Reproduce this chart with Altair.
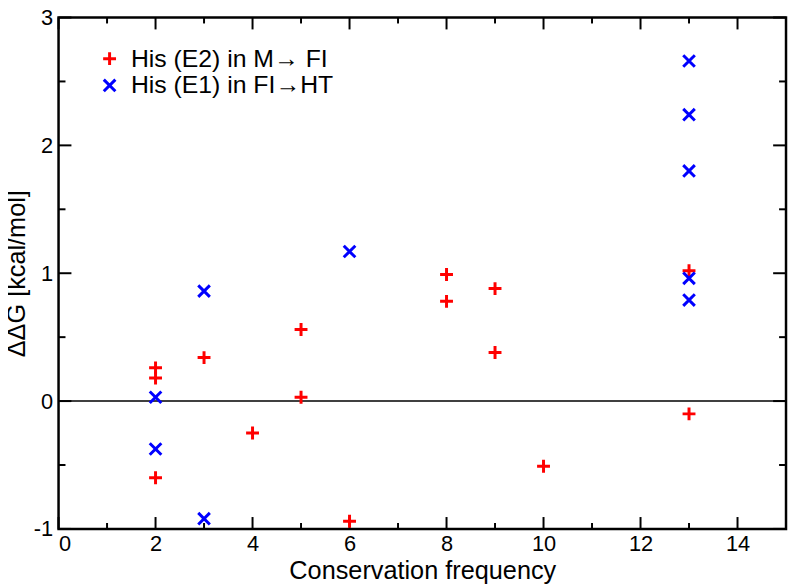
import altair as alt
import pandas as pd

# ---- data ----
red_label = "His (E2) in M\u2192 FI"
blue_label = "His (E1) in FI\u2192HT"

red_x = [2, 2, 2, 3, 4, 5, 5, 6, 8, 8, 9, 9, 10, 13, 13]
red_y = [0.26, 0.18, -0.60, 0.34, -0.25, 0.56, 0.03, -0.94, 0.99, 0.78, 0.88, 0.38, -0.51, 1.02, -0.10]

blue_x = [2, 2, 3, 3, 6, 13, 13, 13, 13, 13]
blue_y = [0.03, -0.375, 0.86, -0.92, 1.17, 2.66, 2.24, 1.80, 0.96, 0.79]

x_major = [0, 2, 4, 6, 8, 10, 12, 14]
x_minor = [1, 3, 5, 7, 9, 11, 13, 15]
y_major = [-1, 0, 1, 2, 3]
y_minor = [-0.5, 0.5, 1.5, 2.5]

W, H = 734, 516
FONT = "Liberation Sans"

pts = pd.DataFrame(
    {"x": red_x + blue_x,
     "y": red_y + blue_y,
     "series": [red_label] * len(red_x) + [blue_label] * len(blue_x)}
)

xs = alt.Scale(domain=[0, 15], nice=False, zero=False)
ys = alt.Scale(domain=[-1, 3], nice=False, zero=False)

plus_path = "M-1,0L1,0M0,-1L0,1"
x_path = "M-0.9,-0.9L0.9,0.9M-0.9,0.9L0.9,-0.9"

leg = dict(title=None, orient="none", legendX=39, legendY=29,
           labelFontSize=25, labelFont=FONT, labelColor="black", labelLimit=500,
           symbolSize=169, symbolStrokeWidth=3, labelOffset=9,
           rowPadding=1, padding=0)

points = alt.Chart(pts).mark_point(filled=False, strokeWidth=3, size=169, opacity=1).encode(
    x=alt.X("x:Q", scale=xs,
            axis=alt.Axis(title="Conservation frequency", values=x_major, ticks=False,
                          domain=False, grid=False, labelFontSize=22, labelPadding=5,
                          labelExpr="'' + datum.value",
                          titleFontSize=25.5, titleFontWeight="normal", titlePadding=4,
                          labelFont=FONT, titleFont=FONT, labelColor="black", titleColor="black")),
    y=alt.Y("y:Q", scale=ys,
            axis=alt.Axis(title="\u0394\u0394G [kcal/mol]", values=y_major, ticks=False,
                          domain=False, grid=False, labelFontSize=22, labelPadding=6,
                          labelExpr="'' + datum.value",
                          titleFontSize=25.5, titleFontWeight="normal", titlePadding=4,
                          labelFont=FONT, titleFont=FONT, labelColor="black", titleColor="black")),
    color=alt.Color("series:N",
                    scale=alt.Scale(domain=[red_label, blue_label], range=["#ff0000", "#0000ff"]),
                    legend=alt.Legend(**leg)),
    shape=alt.Shape("series:N",
                    scale=alt.Scale(domain=[red_label, blue_label], range=[plus_path, x_path]),
                    legend=alt.Legend(**leg)),
)

zero = alt.Chart(pd.DataFrame({"z": [0]})).mark_rule(color="black", strokeWidth=1.5).encode(
    y=alt.Y("z:Q", scale=ys)
)

def xticks(vals, length):
    d = pd.DataFrame({"t": vals})
    bottom = alt.Chart(d).mark_rule(color="black", strokeWidth=2).encode(
        x=alt.X("t:Q", scale=xs), y=alt.value(H), y2=alt.value(H - length))
    top = alt.Chart(d).mark_rule(color="black", strokeWidth=2).encode(
        x=alt.X("t:Q", scale=xs), y=alt.value(0), y2=alt.value(length))
    return bottom + top

def yticks(vals, length):
    d = pd.DataFrame({"t": vals})
    left = alt.Chart(d).mark_rule(color="black", strokeWidth=2).encode(
        y=alt.Y("t:Q", scale=ys), x=alt.value(0), x2=alt.value(length))
    right = alt.Chart(d).mark_rule(color="black", strokeWidth=2).encode(
        y=alt.Y("t:Q", scale=ys), x=alt.value(W), x2=alt.value(W - length))
    return left + right

chart = alt.layer(
    zero,
    xticks(x_major, 12), xticks(x_minor, 6),
    yticks(y_major, 13), yticks(y_minor, 7),
    points,
).properties(
    width=W, height=H,
    autosize=alt.AutoSizeParams(type="none"),
    padding={"left": 51, "top": 7, "right": 2, "bottom": 58},
    background="white",
).configure_view(stroke="black", strokeWidth=2.5)

chart.save("out.html", embed_options={"renderer": "svg", "actions": False})
